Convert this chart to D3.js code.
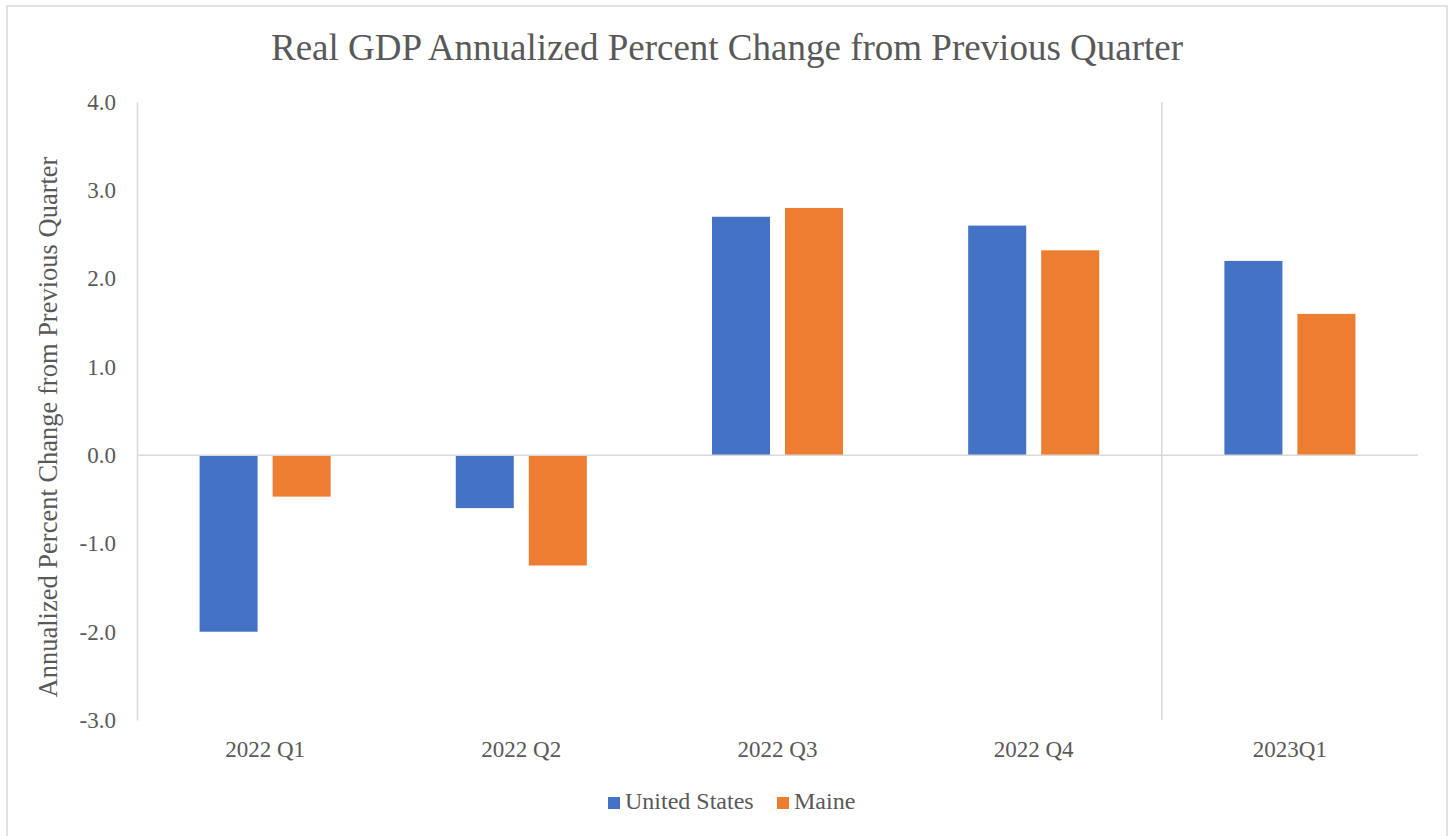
<!DOCTYPE html>
<html>
<head>
<meta charset="utf-8">
<script src="https://cdn.jsdelivr.net/npm/d3@7"></script>
<style>
  html, body { margin: 0; padding: 0; background: #fff; }
  svg text { font-family: "Liberation Serif", "Times New Roman", serif; fill: #595959; }
</style>
</head>
<body>
<svg id="chart" width="1450" height="836"></svg>
<script>
// Quarterly real GDP growth, annualized percent change
const quarters = ["2022 Q1", "2022 Q2", "2022 Q3", "2022 Q4", "2023Q1"];
const seriesNames = ["United States", "Maine"];
const unitedStates = [-2.0, -0.6, 2.7, 2.6, 2.2];
const maine = [-0.47, -1.25, 2.8, 2.32, 1.6];
const yTicks = [-3, -2, -1, 0, 1, 2, 3, 4];
const colors = ["#4472C4", "#ED7D31"];

const rows = quarters.map((q, i) => ({ quarter: q, values: [unitedStates[i], maine[i]] }));

const svg = d3.select("#chart");
const plot = { left: 137, right: 1418, top: 102, bottom: 720 };
const gridColor = "#d9d9d9";

// chart frame
svg.append("rect")
  .attr("x", 7).attr("y", 6).attr("width", 1440).attr("height", 840)
  .attr("fill", "#fff").attr("stroke", gridColor).attr("stroke-width", 1.5);

const x = d3.scaleBand().domain(quarters).range([plot.left, plot.right]).paddingInner(0).paddingOuter(0);
const xs = d3.scaleBand().domain(seriesNames).range([0, x.bandwidth()])
  .paddingInner(0.2055).paddingOuter(0.857);
const y = d3.scaleLinear().domain([-3, 4]).range([plot.bottom, plot.top]);

// title
svg.append("text")
  .attr("x", 727).attr("y", 60)
  .attr("text-anchor", "middle")
  .style("font-size", "37px")
  .text("Real GDP Annualized Percent Change from Previous Quarter");

// y axis
const yAxis = svg.append("g")
  .attr("transform", `translate(${plot.left},0)`)
  .call(d3.axisLeft(y).tickValues(yTicks).tickSize(0).tickPadding(21).tickFormat(d => d.toFixed(1)));
yAxis.select(".domain").attr("stroke", gridColor).attr("stroke-width", 1.5);
yAxis.selectAll("text").style("font-size", "23px").attr("fill", "#595959");

// secondary divider at the last category
svg.append("line")
  .attr("x1", x("2023Q1")).attr("x2", x("2023Q1"))
  .attr("y1", y(4)).attr("y2", y(-3))
  .attr("stroke", gridColor).attr("stroke-width", 1.5);

// bars
const groups = svg.append("g").selectAll("g").data(rows).join("g")
  .attr("transform", d => `translate(${x(d.quarter)},0)`);
groups.selectAll("rect")
  .data(d => d.values.map((v, i) => ({ name: seriesNames[i], value: v, i })))
  .join("rect")
  .attr("x", d => xs(d.name))
  .attr("width", xs.bandwidth())
  .attr("y", d => y(Math.max(0, d.value)))
  .attr("height", d => Math.abs(y(d.value) - y(0)))
  .attr("fill", d => colors[d.i]);

// zero line
svg.append("line")
  .attr("x1", plot.left).attr("x2", plot.right)
  .attr("y1", y(0)).attr("y2", y(0))
  .attr("stroke", gridColor).attr("stroke-width", 1.5);

// category labels along the bottom
const xAxis = svg.append("g")
  .attr("transform", `translate(0,${plot.bottom})`)
  .call(d3.axisBottom(x).tickSize(0).tickPadding(21));
xAxis.select(".domain").remove();
xAxis.selectAll("text").style("font-size", "23px").attr("fill", "#595959");

// y axis title
svg.append("text")
  .attr("transform", "translate(57,427) rotate(-90)")
  .attr("text-anchor", "middle")
  .style("font-size", "26.5px")
  .text("Annualized Percent Change from Previous Quarter");

// legend
const legendItems = [{ name: "United States", x: 608 }, { name: "Maine", x: 777 }];
const legend = svg.append("g").selectAll("g").data(legendItems).join("g")
  .attr("transform", d => `translate(${d.x},797)`);
legend.append("rect").attr("width", 12).attr("height", 12).attr("fill", (d, i) => colors[i]);
legend.append("text").attr("x", 17).attr("y", 11.5).style("font-size", "24px").text(d => d.name);
</script>
</body>
</html>
